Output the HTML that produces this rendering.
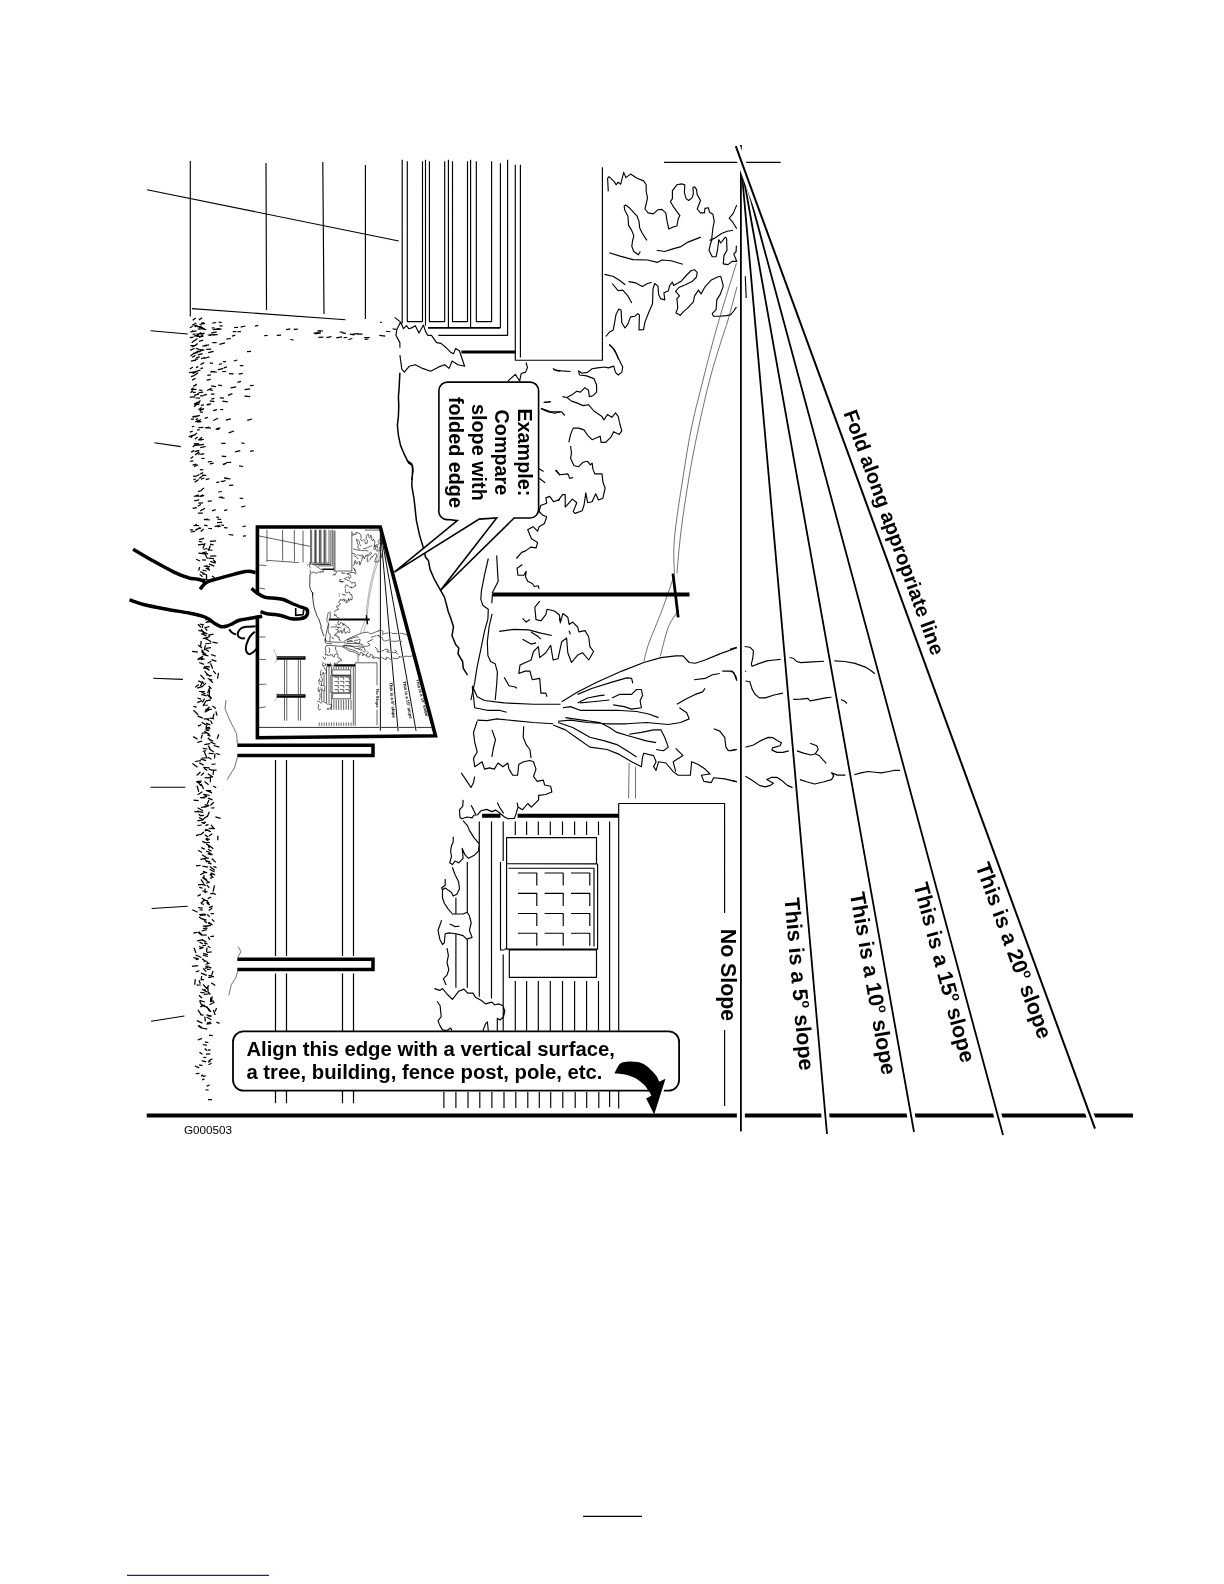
<!DOCTYPE html>
<html><head><meta charset="utf-8"><title>Slope chart</title>
<style>
html,body{margin:0;padding:0;background:#fff}
body{width:1224px;height:1584px;overflow:hidden;position:relative;font-family:"Liberation Sans",sans-serif}
svg{position:absolute;left:0;top:0;display:block;will-change:transform}
svg text{font-family:"Liberation Sans",sans-serif;fill:#000}
.b{font-weight:bold}
path{fill:none;stroke:#000;stroke-linecap:butt;stroke-linejoin:round}
.t{stroke-width:calc(1.15px*var(--k))}
.h{stroke-width:calc(0.7px*var(--k));stroke:#333}
.m{stroke-width:calc(1.8px*var(--k))}
.m2{stroke-width:calc(1.5px*var(--k))}
.t2{stroke-width:calc(1.2px*var(--k))}
.k2{stroke-width:calc(3.5px*var(--k));stroke-linejoin:miter}
.k{stroke-width:calc(2.8px*var(--k))}
.kk{stroke-width:calc(4px*var(--k))}
.sl{stroke-width:calc(1.8px*var(--k))}
.base{stroke-width:4px}
.halo{stroke:#fff;stroke-width:8px}
.halo2{stroke:#fff;stroke-width:6.5px}
.wf{fill:#fff}
.bf{fill:#000;stroke:none}
</style></head><body>
<svg width="1224" height="1584" viewBox="0 0 1224 1584" style="--k:1">
<defs><g id="scene">
<path class="t" d="M190.3,161.0 190.3,316.5M266.0,163.0 266.5,310.0M322.8,162.0 324.0,314.0M365.4,165.0 365.4,319.0M147.0,189.7 398.8,241.0M192.0,308.6 345.5,319.7M402.2,159.8 402.2,323.5M407.3,161.2 407.3,321.6 422.5,321.6 422.5,161.2M425.5,159.8 425.5,325.5M429.4,161.2 429.4,321.6 444.7,321.6 444.7,161.2M448.4,159.8 448.4,327.5M452.5,161.2 452.5,321.6 467.5,321.6 467.5,161.2M470.6,159.8 470.6,327.5M476.3,161.2 476.3,321.6 491.6,321.6 491.6,161.2M500.4,163.3 500.4,328.0M507.6,159.8 507.6,335.3 438.2,335.3M515.3,164.7 515.3,360.2 602.4,360.2 602.4,167.3M520.4,164.7 520.4,357.5"/>
<path class="m" d="M428.0,327.8 500.4,327.8"/>
<path class="k" d="M461.4,352.0 515.3,352.0"/>
<path class="t" d="M608.3,191.4 607.6,178.3 609.0,176.7 614.2,181.6 616.1,184.8 618.1,182.2 620.7,184.2 623.7,172.4 625.9,177.6 630.5,174.1 637.1,178.3 643.6,180.9 646.2,184.8 646.2,191.4 647.5,197.9 646.2,203.8 644.9,209.0 648.2,212.9 653.4,213.9 658.0,209.7 661.9,209.4 665.8,212.9 667.1,221.4 668.8,229.0 673.7,226.7 676.9,226.0 678.2,218.8 679.9,215.6 676.9,211.6 673.7,207.1 670.4,201.8 672.4,198.6 672.4,190.7 676.9,184.8 681.5,183.9 684.8,184.8 684.4,192.7 686.1,198.6 688.7,200.5 692.0,197.9 693.3,194.0 693.0,187.5 694.6,186.8 696.5,189.4 697.2,194.6 700.5,200.5 697.2,209.0 700.5,212.9 704.4,212.9 705.0,208.4 708.3,207.7 709.6,212.3 712.9,214.2 714.2,221.4 712.9,228.0 712.2,234.5 711.6,239.7M646.9,240.4 642.3,233.2 639.7,228.0 639.0,221.4 637.1,216.2 629.2,207.7 625.9,205.1 624.2,205.8 624.6,209.7 627.9,216.2 628.6,225.4 631.8,230.6 633.8,235.8 632.5,241.0 631.8,246.3 633.8,251.5 638.4,254.8 640.3,251.5M609.3,252.8 620.1,256.1 633.1,259.6 647.5,260.0 657.3,262.4 661.9,260.0 671.0,260.7 682.8,264.3M656.7,250.2 664.5,251.5 673.7,248.6 680.2,246.9 688.0,242.1 700.8,237.1M709.6,240.4 714.2,238.4 722.0,233.2 727.3,231.2 733.1,230.3M709.6,240.4 712.2,239.1 710.5,243.7 709.0,250.2 712.2,256.7 716.1,256.7 717.5,250.2 718.8,239.7 720.7,243.0 725.3,237.1 726.6,238.4 727.0,250.2 724.0,255.4 723.3,263.9 727.9,264.6 732.5,261.3 736.7,261.3 733.8,254.1 736.1,251.5 736.4,245.6M736.7,205.1 733.1,213.6 729.2,218.2 733.1,222.7 736.7,228.6M604.4,274.4 612.9,276.3 619.4,280.3 625.3,284.8M628.6,281.6 635.8,282.9 642.3,286.5 647.5,283.5 651.7,282.2M612.2,283.5 618.1,290.7 622.7,290.1 627.9,295.9 631.8,303.1M605.9,336.5 609.6,331.9 613.3,329.9 616.1,314.2 618.8,309.0 621.1,310.3 621.8,322.7 625.0,328.0 627.9,324.1 630.5,316.9 635.1,316.2 637.7,313.6 639.4,314.9 639.0,329.9 643.6,329.7 644.9,322.1 648.8,312.3 652.5,303.8 653.0,288.8 654.7,283.5 658.0,286.1 658.6,294.6 660.6,298.6 664.8,299.9 663.9,292.7 668.4,290.7 669.7,285.5 672.4,282.2 673.7,285.5 681.5,280.9 686.7,275.0 691.3,270.5 694.6,269.8 697.2,272.4 696.5,277.0 692.0,281.6 685.4,284.8 678.9,287.5 675.6,291.4 679.5,295.9 676.9,298.6 677.8,307.7 676.0,312.9 680.2,315.3 683.5,311.6 687.4,308.4 693.3,301.8 694.6,295.9 698.5,290.1 701.1,294.0 705.0,286.8 710.9,280.3 717.5,277.0 720.7,276.3 722.0,280.9 723.3,286.1 720.1,294.6 716.8,299.9 716.1,309.7 712.2,313.6 713.5,316.2 718.8,316.2 726.6,315.6 730.5,314.9 733.8,311.0 736.4,307.1M609.6,344.6 612.9,348.2 616.1,353.5 618.8,359.7M745.3,276.3 746.2,297.9"/>
<path class="t" d="M400.6,322.1 403.5,328.7 406.5,325.7 408.7,328.7 411.6,327.9 415.3,325.7 419.0,333.1 423.4,325.0 425.6,331.6 427.8,335.3 431.5,335.3 436.6,342.6 441.0,343.4 446.2,347.8 450.6,352.2 453.5,353.7 455.7,348.5 459.4,350.7 464.6,366.2 457.9,364.7 452.1,361.0 449.1,368.4 444.7,364.7 438.8,366.9 430.7,371.3 422.6,368.4 415.3,364.7 409.4,366.2 404.3,372.1 401.8,369.1 399.9,355.1M400.6,322.1 396.9,329.4 395.9,335.3 399.9,342.6 399.9,347.8M394.7,317.4 400.6,322.1M380.0,322.1 381.8,322.5M385.9,331.2 390.3,331.8M392.5,328.7 396.2,329.4M526.0,362.5 527.5,367.6 525.6,372.1 521.2,373.5 519.7,380.9M507.9,381.2 515.3,374.3 519.7,381.2M552.8,368.4 556.5,370.6 560.0,371.3M544.0,402.2 550.6,401.5M541.0,408.8 547.6,411.8 555.0,413.2 560.0,411.8M488.3,558.5 484.5,575.2 481.5,590.3 480.8,599.4 483.0,605.5 488.3,609.2 487.9,619.1 484.5,631.2 480.8,649.4 477.0,667.6 474.7,682.7 470.9,700.0M496.7,555.5 497.4,569.1 498.2,581.2 494.4,588.8 492.1,593.3M492.4,594.1 491.8,603.2M492.1,613.8 489.1,626.7 487.3,641.8 487.9,655.5 490.6,661.5 495.2,663.8 497.4,672.1 496.7,684.2 495.2,700.0M538.3,468.3 543.6,471.4M539.1,478.2 545.2,482.7M555.8,469.8 560.0,475.2M560.0,499.4 553.5,501.7 549.7,496.4 545.9,497.9 546.7,503.2 540.6,505.5 539.1,511.5 542.9,515.3 546.7,516.8 544.4,523.6 539.1,526.7 537.6,531.2 533.0,526.7 527.7,529.7 531.5,538.8 537.6,542.6 536.1,547.9 530.8,547.1 525.5,550.9 521.7,552.4 516.4,558.5M522.4,564.5 517.1,568.3 517.9,575.2 523.9,575.2 526.2,571.4 525.5,576.7 527.7,581.2 532.3,583.5 534.5,586.5 538.3,585.8 539.1,588.8"/>
<path class="m2" d="M399.9,372.8 399.1,388.2 398.4,397.1 398.8,405.9 398.4,416.2 397.4,425.0 398.4,435.3 400.6,445.6 404.3,454.4 408.7,463.2 412.4,465.4 413.1,470.6 411.6,480.0M406.5,460.0 411.8,463.8 412.6,469.1 411.8,485.8 414.1,499.4 416.4,520.6 419.7,535.8 423.9,549.4 425.5,557.0 428.5,560.8 430.0,569.1 434.5,579.7 440.6,590.3 444.4,597.1 446.7,605.5 448.2,611.5 450.5,617.6 453.5,626.7 452.0,635.8 455.8,644.8 458.8,647.9 458.0,653.9 462.6,661.5 463.3,668.3 467.6,675.2"/>
<path class="t" d="M609.2,344.5 614.6,349.9 619.1,359.8 622.7,367.0 621.8,372.4 618.2,375.0 615.5,372.4 613.7,366.1 608.3,367.9 604.7,367.0 597.5,367.9 592.1,368.8 587.6,372.4 582.2,373.2 578.6,370.9 579.5,375.0 586.7,375.9 593.9,378.6 596.6,384.9 596.6,392.1 593.0,395.7 589.4,396.6 588.5,390.3 584.9,387.6 580.4,392.1 576.8,391.2 573.2,393.9 567.0,397.5 562.5,396.6M567.0,397.5 571.5,401.1 576.8,402.9 583.1,405.6 588.5,404.7 593.9,411.0 602.0,416.4 603.8,420.0 607.4,414.6 611.9,417.3 615.5,412.8 618.2,416.4 620.0,424.5 621.8,430.8 619.1,434.4 613.7,431.7 611.0,437.1 605.6,442.4 601.1,442.4 600.2,436.2 592.1,439.7 587.6,435.3 584.0,429.9 578.6,428.1 573.2,428.1 570.6,434.4 568.8,442.4M570.6,446.0 571.5,453.2 570.6,458.6 574.1,465.8 578.6,466.7 583.1,462.2 587.6,461.3 590.3,464.9 592.1,463.1 593.0,469.4 594.8,473.9 602.0,473.9 602.9,482.0 605.1,488.3 602.9,498.2 598.4,500.0 595.7,493.7 592.1,501.8 587.6,502.7 585.8,492.8 584.0,505.3 582.2,510.7 575.0,513.4 573.2,511.6 576.8,502.7 572.4,499.1 565.2,507.1 565.2,494.6 562.5,494.6 558.0,500.9M553.5,369.7 561.6,370.9 570.6,371.5M543.6,402.5 550.8,402.0M540.9,408.3 550.8,411.9 561.6,411.9 564.8,415.5M555.3,470.3 559.8,474.8 567.9,473.9 569.7,478.4 573.2,477.5"/>
<path class="h" d="M736.4,263.3C734.0,271.1 725.8,297.2 722.0,310.0C718.2,322.8 716.8,327.5 713.4,340.0C710.0,352.5 705.5,369.9 701.8,384.9C698.1,399.9 694.3,413.4 691.0,429.9C687.7,446.4 684.4,468.8 682.0,483.8C679.6,498.8 678.0,509.2 676.6,519.7C675.2,530.2 674.3,537.7 673.9,546.7C673.5,555.7 674.3,569.1 674.4,573.6M737.0,286.8C735.5,292.3 730.6,311.1 728.0,320.0C725.4,328.9 724.4,330.7 721.5,340.0C718.6,349.3 714.3,362.5 710.7,376.0C707.1,389.5 703.3,405.9 700.0,420.9C696.7,435.9 693.7,450.8 691.0,465.8C688.3,480.8 685.8,497.2 683.8,510.7C681.8,524.2 680.4,536.2 679.3,546.7C678.2,557.2 677.4,569.1 677.0,573.6M673.3,578.0C671.4,583.5 665.9,599.8 661.8,610.7C657.7,621.6 651.8,635.0 648.8,643.4C645.8,651.8 644.7,658.4 643.9,661.4M678.2,610.7C676.6,613.4 671.4,619.4 668.4,627.0C665.4,634.6 661.6,651.6 660.2,656.5"/>
<path class="kk" d="M492.5,594.4 689.5,594.4"/>
<path class="k" d="M673.0,573.6 678.2,617.3"/>
<path class="t" d="M472.3,685.8 477.2,696.8 484.5,700.5 504.1,702.9 533.5,704.2 560.5,704.2M561.7,701.7 577.6,691.9 597.3,682.1 621.8,671.1 643.8,662.5 661.0,657.6 675.7,655.9 683.0,655.9 689.2,662.5 695.3,663.2 705.1,660.0 719.8,653.9 737.0,647.8M477.2,720.1 487.0,720.6 496.8,718.9 513.9,720.6 533.5,722.5 553.1,723.8M553.1,725.0 565.4,729.9 577.6,738.5 589.9,747.1 607.1,749.5 619.3,754.4 631.6,761.8 641.4,766.7 642.6,756.9 643.8,753.2 653.6,755.6 656.1,761.8 653.6,766.7 656.1,770.3 658.5,761.8 665.9,763.0 673.2,771.6 678.1,775.2 690.4,775.2 691.6,761.8 697.7,764.2 705.1,769.1 710.0,774.0 701.4,775.2 703.9,781.4 711.2,782.6 713.7,777.7 724.7,778.9 737.0,781.9M472.3,687.0 473.5,696.8 474.7,707.8 487.0,710.3 499.2,710.3 506.6,712.3M562.9,707.8 570.3,706.6 580.1,710.3 597.3,710.3 616.9,710.3 636.5,711.5 648.7,714.0 658.5,717.6M577.6,702.9 587.5,698.0 599.7,695.6 604.6,695.1M577.6,694.4 592.4,688.2 612.0,682.1 626.7,677.9 631.6,678.4 632.8,683.3M580.1,702.9 592.4,701.7 609.5,700.0M612.0,698.0 619.3,694.4 631.6,694.4 636.5,689.5 641.4,689.5 642.6,695.6 640.1,700.5 641.4,707.8 631.6,709.1 624.2,706.6 613.2,704.9M558.0,721.3 570.3,720.1 587.5,722.5 607.1,723.8 626.7,723.8 646.3,722.5 668.3,724.5 680.6,722.5 689.2,718.9 686.7,712.7 679.4,707.8M565.4,717.6 582.5,720.1 599.7,722.5 609.5,727.5 616.9,732.4 629.1,736.0 646.3,740.9 656.1,742.6M558.0,722.5 572.7,727.5 589.9,737.3 604.6,740.9 616.9,744.6 629.1,752.0 636.5,756.9M629.1,734.3 641.4,732.4 653.6,729.9 661.0,729.9 664.7,737.3 668.3,747.1 663.4,750.7 656.1,749.5M675.7,748.3 683.0,755.6 673.2,761.8 675.7,771.6M676.9,704.2 685.5,699.3 695.3,694.4 702.6,691.9 705.1,688.2M694.1,679.7 705.1,678.4 712.5,674.8 719.8,673.5M722.3,671.1 732.1,671.1 735.7,676.0 737.0,680.9M713.7,728.7 719.8,731.1 724.7,737.3 725.9,747.1 728.4,750.7 737.0,749.5M539.7,601.2 534.8,607.4 536.0,619.6 540.9,620.8 545.8,614.7 547.0,609.3 554.4,611.0 559.3,614.7 560.5,622.1 562.9,613.5 567.8,617.2 569.1,624.5 572.7,622.1 577.6,627.0 578.9,631.9 585.0,630.6 588.7,636.8 589.9,646.6 593.6,651.5 588.7,660.0 582.5,652.7 577.6,655.1 571.5,662.5 567.8,652.7 566.6,638.0 561.7,641.7 558.0,658.8 553.1,660.0 550.7,645.3 545.8,652.7 539.7,657.6 538.4,646.6 533.5,651.5 531.1,660.0 520.0,665.0 518.8,673.5 525.0,671.1 529.9,671.1 532.3,679.7 539.7,678.4 540.9,693.1 545.8,693.1 547.0,696.8M499.2,631.4 513.9,629.4 528.6,629.9 540.9,633.1 551.9,635.5M522.5,618.4 526.2,622.1 529.9,619.6M522.5,639.2 531.1,644.1 536.0,642.9M531.1,631.9 538.4,636.8 540.9,639.2M569.1,630.6 570.3,634.3M559.3,618.4 560.5,623.3M504.1,677.2 509.0,685.8 515.1,687.0 516.9,688.2M477.2,721.3 473.5,732.4 474.7,742.2 477.2,752.0 473.5,758.1 474.7,766.7 478.4,764.2 482.1,761.8 484.5,769.1 489.4,767.9 494.3,769.1 498.0,763.0 502.9,766.7 507.8,763.0 509.0,769.1 512.7,775.2 517.6,775.2 518.8,764.2 523.7,761.8 529.9,760.5 533.5,761.8 536.0,769.1 533.5,776.5 537.2,781.4 543.3,780.1 544.6,785.0 550.7,786.3 551.9,792.4M491.9,729.9 495.5,739.7 493.1,749.5 491.9,756.9M523.7,726.2 523.2,737.3 526.2,744.6 529.9,749.5 531.1,758.1M461.2,772.8 466.1,780.1 471.0,787.5 473.5,782.6 474.7,776.5"/>
<path class="h" d="M629.1,763.0 628.6,798.5M635.5,766.7 635.5,798.5"/>
<path class="kk" d="M517.6,815.7 618.8,815.7M482.1,815.7 500.4,815.7"/>
<path class="t" d="M730.0,649.4 736.6,647.2M744.7,646.5 749.9,647.2 753.5,650.9 752.8,658.2 751.3,664.1 752.1,666.3 759.4,663.4 766.8,660.9 774.1,660.0 780.7,659.4M789.6,657.5 793.2,658.2 796.2,661.2 800.6,662.6 812.4,661.9 824.1,661.2M834.4,660.9 844.7,661.5 855.0,663.4 865.3,667.1 871.2,670.7 874.9,673.7M730.0,671.5 733.7,672.2 736.6,680.3M745.4,670.7 745.9,671.8M745.4,681.0 749.9,681.8 752.1,689.1 755.0,694.3 759.4,697.9 765.3,697.9 774.1,695.0 782.9,693.1M793.2,699.4 800.6,699.1 807.9,698.4 810.1,700.9 818.2,699.4 825.6,697.9 831.5,697.2M841.0,699.4 844.7,701.2 846.9,703.5M730.0,750.9 736.6,749.4M745.4,747.2 753.5,745.0 760.9,740.6 768.2,737.4 772.6,737.6 777.1,740.6 781.5,742.8 780.0,745.7 772.6,747.9 771.9,750.1 777.1,752.4 782.9,752.4 788.8,750.9M796.9,750.9 803.5,753.1 810.9,755.0 815.3,753.8 818.2,749.4 816.8,745.7 810.1,743.2M815.3,753.8 819.7,756.0 823.4,760.4 826.3,763.4M730.0,780.3 736.6,781.5M745.4,776.2 752.1,780.3 759.4,785.4 765.3,786.9 770.4,785.4 773.4,783.2 766.8,779.6 771.2,777.4 777.1,777.4 781.5,780.3 787.4,785.4 792.5,787.6M799.9,779.6 806.5,781.8 814.6,784.0 824.1,781.8 831.5,779.6 833.7,775.9 831.5,772.9 837.4,775.1 845.4,775.1M854.3,774.7 860.9,772.9 868.2,771.5 874.9,772.2 881.5,772.9 888.8,771.5 894.7,770.3 899.9,770.3"/>
<path class="t" d="M455.9,897.8 455.9,913.7M455.9,934.1 455.9,987.7M467.3,861.9 467.3,912.2M467.3,939.2 467.3,987.7M479.3,821.5 479.3,996.7M491.5,821.5 491.5,998.5M503.2,821.5 503.2,861.0M503.2,954.5 503.2,1030.8M515.3,821.5 515.3,834.9M515.3,980.9 515.3,1030.8M526.6,821.5 526.6,834.9M526.6,980.9 526.6,1030.8M538.3,821.5 538.3,834.9M538.3,980.9 538.3,1030.8M550.3,821.5 550.3,834.9M550.3,980.9 550.3,1030.8M562.5,821.5 562.5,834.9M562.5,980.9 562.5,1030.8M574.6,821.5 574.6,834.9M574.6,980.9 574.6,1030.8M586.6,821.5 586.6,834.9M586.6,980.9 586.6,1030.8M598.5,821.5 598.5,834.9M598.5,980.9 598.5,1030.8M609.6,821.5 609.6,1030.8M500.5,861.9 500.5,950.0 504.5,950.0M506.6,837.6 596.5,837.6 596.5,863.7 506.6,863.7ZM506.6,863.7 597.6,864.0 597.6,949.1 504.5,949.1M506.6,863.7 506.6,949.1M508.4,868.2 594.0,868.2 594.0,946.4M509.3,950.0 596.5,950.0 596.5,977.3 509.3,977.3ZM518.0,873.0 536.8,873.0 536.8,885.6M544.6,873.0 563.2,873.0 563.2,885.6M571.0,873.0 589.8,873.0 589.8,885.6M518.0,893.3 536.8,893.3 536.8,905.9M544.6,893.3 563.2,893.3 563.2,905.9M571.0,893.3 589.8,893.3 589.8,905.9M518.0,913.5 536.8,913.5 536.8,926.1M544.6,913.5 563.2,913.5 563.2,926.1M571.0,913.5 589.8,913.5 589.8,926.1M518.0,933.2 536.8,933.2 536.8,945.8M544.6,933.2 563.2,933.2 563.2,945.8M571.0,933.2 589.8,933.2 589.8,945.8M463.1,799.9 462.8,806.2 459.5,809.8 459.9,817.0 461.7,818.8 467.1,817.0 472.1,817.9 473.9,815.2 477.5,814.8 481.1,810.7 486.5,809.4 491.9,811.6 495.5,810.1 499.1,812.5 504.5,817.0 508.1,818.8 514.4,818.4 516.2,813.4 518.0,807.1 517.1,802.6M518.0,807.1 522.4,809.8 527.8,803.5 531.4,807.1 538.6,799.9 538.6,795.4 545.8,794.5 552.1,791.8M497.3,802.6 500.0,808.0 503.6,813.4M471.2,805.3 473.9,810.7 475.7,814.3M463.1,820.6 467.6,825.9 469.4,830.4 473.9,837.6 479.3,843.9 478.4,851.1 473.9,855.6 468.5,858.3 464.9,854.7 462.2,848.4 463.1,858.3 458.6,862.8 455.0,861.0 452.4,864.6 449.7,862.8 451.5,856.5 450.6,851.1 451.5,845.7 453.2,842.1 453.2,836.7M452.4,867.3 455.0,874.5 458.6,881.7 459.5,888.8 456.8,894.2 453.2,896.0 451.5,892.4 448.8,890.6 445.2,888.0 442.5,889.7 441.6,888.0 445.2,885.3 445.2,879.0M442.5,889.7 442.5,897.8 444.3,903.2 447.9,908.6 452.4,914.0 458.6,914.0 463.1,914.0 467.1,912.2 469.4,915.8 471.2,923.0 469.4,930.2 472.1,937.4 466.7,939.2 463.1,935.6 455.9,933.8 448.8,932.9 445.2,933.8 444.3,942.8 442.5,944.6 439.8,939.2 438.0,930.2 440.7,923.0 441.6,920.3M449.7,923.9 455.0,926.6 459.5,926.2M447.0,948.2 448.4,955.3 447.0,962.5 448.8,969.7 447.0,975.1 443.4,978.7 446.1,985.0M434.4,988.6 439.8,990.4 442.5,988.6 447.0,994.0 452.4,999.4 455.9,994.9 458.6,991.3 464.0,989.1 467.6,993.1 473.0,993.1 475.7,997.6 481.1,1000.3 485.6,1003.9 491.9,1002.1 494.6,1004.8 499.1,1003.9 503.0,1005.7 504.8,1011.1 503.6,1016.5 500.0,1020.1 497.3,1018.3 497.3,1030.8M437.1,1001.2 440.1,1005.7 441.2,1016.5 438.0,1020.9 439.8,1025.4 442.5,1029.9 447.0,1030.5 450.6,1028.1 452.0,1030.8M482.9,1030.8 485.6,1023.6 487.4,1021.8 488.3,1030.8M443.9,1092.0 443.9,1108.0M455.9,1092.0 455.9,1108.0M468.0,1092.0 468.0,1108.0M479.8,1092.0 479.8,1108.0M491.9,1092.0 491.9,1108.0M504.0,1092.0 504.0,1108.0M515.8,1092.0 515.8,1108.0M527.8,1092.0 527.8,1108.0M539.3,1092.0 539.3,1108.0M550.7,1092.0 550.7,1108.0M562.8,1092.0 562.8,1108.0M575.2,1092.0 575.2,1108.0M586.7,1092.0 586.7,1108.0M598.8,1092.0 598.8,1108.0M609.6,1030.8 609.6,1107.0M618.7,1108.5 618.7,803.5 724.6,803.5 724.6,913.0M724.6,1030.0 724.6,1106.0"/>
<path class="t" d="M150.6,330.8 187.8,334.0M154.4,442.7 180.8,446.6M153.2,678.3 182.9,679.4M150.4,787.2 185.4,787.2M151.7,908.5 187.7,906.3M151.0,1021.2 184.4,1016.0"/>
</g>
<g id="fence">
<path class="t2" d="M275.5,760.0 275.5,956.0M275.5,973.5 275.5,1103.3M286.5,760.0 286.5,956.0M286.5,973.5 286.5,1103.3M342.5,760.0 342.5,956.0M342.5,973.5 342.5,1103.3M353.5,760.0 353.5,956.0M353.5,973.5 353.5,1103.3"/>
<path class="k2" d="M237.3,745.3 373.0,745.3 373.0,755.6 237.3,755.6M237.3,959.2 373.0,959.2 373.0,969.6 237.3,969.6"/>
<path class="h" d="M226.0,700.0 225.0,708.5 229.2,719.1 233.5,727.6 236.6,734.0 237.3,743.5M237.3,757.3 234.5,768.0 230.3,774.3 227.1,779.7M238.1,946.4 240.9,951.7 237.7,957.4M237.7,971.5 235.6,978.2 231.3,984.6 228.8,995.2"/>
</g>
<g id="lines">
<path class="base" d="M146.7,1115.6 H1133"/>
<path class="t" d="M664.1,162.3 H780.7"/>
<path class="halo" d="M740.9,1108 L740.9,1131.5"/>
<path class="halo2" d="M740.9,640 L740.9,800"/>
<path class="halo" d="M824.7,1108 L827.0,1134.0"/>
<path class="halo2" d="M783.2,640 L797.4,800"/>
<path class="halo" d="M909.7,1108 L914.0,1132.0"/>
<path class="halo2" d="M826.2,640 L854.7,800"/>
<path class="halo" d="M995.7,1108 L1003.0,1135.0"/>
<path class="halo2" d="M869.6,640 L912.7,800"/>
<path class="halo" d="M1087.4,1108 L1095.0,1128.7"/>
<path class="sl" d="M740.9,145.0 L740.9,1131.5"/>
<path class="sl" d="M741.0,163.0 L827.0,1134.0"/>
<path class="sl" d="M741.0,163.0 L914.0,1132.0"/>
<path class="sl" d="M741.0,163.0 L1003.0,1135.0"/>
<path class="halo" style="stroke-width:8.3px" d="M734.3,142 L767.2,232"/>
<path class="sl" style="stroke-width:calc(2px*var(--k))" d="M735.8,146.2 L1095.0,1128.7"/>
</g>
<g id="labels">
<text class="b" font-size="20.2" transform="translate(843.3,413.0) rotate(70)">Fold along appropriate line</text>
<text class="b" font-size="21.3" transform="translate(721.2,928.8) rotate(90)">No Slope</text>
<text class="b" font-size="21.45" transform="translate(784.4,898.2) rotate(85)">This is a 5<tspan font-size="12.5" dy="-8.5">o</tspan><tspan dy="8.5"> </tspan>slope</text>
<text class="b" font-size="21.45" transform="translate(849.8,893.4) rotate(80)">This is a 10<tspan font-size="12.5" dy="-8.5">o</tspan><tspan dy="8.5"> </tspan>slope</text>
<text class="b" font-size="21.45" transform="translate(913.3,884.8) rotate(75)">This is a 15<tspan font-size="12.5" dy="-8.5">o</tspan><tspan dy="8.5"> </tspan>slope</text>
<text class="b" font-size="21.5" transform="translate(975.2,865.7) rotate(70)">This is a 20<tspan font-size="12.5" dy="-8.5">o</tspan><tspan dy="8.5"> </tspan>slope</text>
</g>
</defs>
<use href="#scene"/>
<use href="#fence"/>
<use href="#lines"/>
<use href="#labels"/>
<path style="stroke-width:1.25px" d="M191.5,388.5 L194.1,388.0M193.8,435.5 L197.0,433.1M195.1,327.0 L197.3,325.3M199.6,411.0 L202.2,409.2M200.6,454.6 L204.2,453.7M189.9,529.9 L193.2,529.8M190.2,350.4 L194.6,348.2M196.2,357.6 L199.8,356.9M190.5,437.8 L193.0,435.9M194.2,466.6 L198.0,464.7M192.3,416.5 L196.9,416.2M195.4,371.7 L200.4,370.2M193.0,476.2 L195.9,476.4M198.4,409.8 L201.7,407.6M196.9,326.7 L201.1,326.3M192.6,508.3 L196.9,507.7M193.8,443.9 L199.1,443.7M197.1,422.3 L200.8,419.5M201.2,458.5 L204.6,458.3M197.5,402.9 L200.5,400.5M190.5,355.9 L194.3,353.0M191.6,347.0 L196.3,345.1M193.9,336.2 L198.9,334.8M199.7,496.6 L203.0,494.9M200.1,395.8 L203.1,395.9M192.1,357.2 L195.5,355.3M192.7,447.0 L195.6,444.6M195.5,398.0 L200.1,398.2M197.1,430.1 L199.7,429.6M197.9,513.2 L202.8,513.2M194.0,404.4 L197.6,401.9M190.5,332.3 L193.1,330.7M190.5,392.7 L192.8,390.8M193.4,341.6 L197.4,338.4M191.2,452.1 L194.3,450.4M189.7,397.1 L195.2,396.9M195.7,419.9 L197.9,418.3M192.7,392.4 L195.7,392.3M201.0,323.4 L203.8,322.6M188.7,436.6 L193.9,435.1M197.8,506.2 L200.9,504.5M197.9,354.9 L202.6,353.6M191.0,389.7 L196.4,389.4M198.3,503.2 L203.0,502.9M196.0,367.7 L198.4,366.7M192.3,325.1 L196.4,323.0M193.6,525.5 L199.1,525.7M194.0,526.0 L196.8,524.4M190.9,361.2 L196.0,360.1M194.3,500.8 L199.2,499.9M196.5,336.4 L201.4,336.4M194.7,482.1 L198.8,479.5M198.8,390.0 L202.4,390.3M200.9,405.3 L203.9,404.9M190.4,345.5 L195.3,345.6M198.7,349.6 L203.1,349.9M196.5,394.8 L198.6,393.3M196.3,529.4 L201.3,527.9M199.9,412.2 L203.0,412.1M192.7,373.7 L196.4,371.6M193.9,375.7 L198.2,372.8M194.0,395.4 L199.0,394.2M200.1,409.9 L204.0,408.7M189.8,432.1 L192.7,431.1M198.9,319.9 L202.2,317.8M195.8,476.2 L199.5,474.5M198.7,439.7 L202.1,437.3M192.3,372.1 L196.3,371.7M198.2,439.9 L202.0,439.9M194.9,451.6 L199.3,450.3M194.9,417.0 L199.9,415.3M199.9,469.7 L203.2,469.8M200.9,439.5 L203.8,439.4M195.0,345.4 L197.6,343.4M196.4,334.1 L201.6,333.7M198.2,351.8 L201.0,351.3M200.3,510.9 L204.9,508.2M194.4,404.2 L199.3,404.6M194.5,353.5 L197.9,352.5M193.6,360.6 L196.1,360.3M194.9,439.3 L197.6,437.1M195.0,455.0 L199.3,451.7M201.3,490.0 L204.0,488.1M199.1,327.3 L201.6,325.9M200.3,409.7 L203.6,409.5M199.8,351.0 L204.3,349.8M189.8,337.7 L193.6,337.1M199.9,334.2 L204.7,333.2M199.2,337.7 L203.3,334.6M192.5,417.2 L197.6,415.8M191.0,376.6 L194.1,375.7M191.7,342.7 L194.2,340.8M193.0,385.9 L196.3,385.5M192.0,427.0 L194.3,426.0M189.1,372.6 L193.2,372.1M195.3,359.1 L198.1,359.2M193.8,496.5 L198.6,494.9M194.4,403.7 L199.8,402.9M198.8,392.7 L203.2,392.1M194.0,406.7 L196.3,404.9M198.6,334.1 L201.2,332.6M198.8,336.4 L203.4,336.3M192.2,380.1 L195.6,378.3M194.0,353.5 L198.7,350.9M195.2,530.4 L199.9,527.8M193.9,386.3 L196.7,384.0M195.3,422.0 L198.8,420.0M192.7,320.2 L195.7,318.0M189.8,327.8 L192.7,326.3M195.1,445.3 L199.6,444.8M199.9,474.0 L203.2,472.7M190.6,532.0 L195.0,531.4M198.8,327.5 L203.2,327.5M199.1,478.4 L202.4,476.1M198.5,427.6 L203.5,427.3M199.5,445.1 L204.0,444.4M189.9,368.9 L192.9,366.9M198.9,341.3 L203.1,340.2M198.0,454.3 L200.4,453.5M198.0,491.7 L201.9,490.5M190.2,461.3 L193.4,460.9M192.6,334.4 L195.7,334.0M201.0,479.1 L204.4,478.0M197.0,422.2 L201.4,421.7M190.6,458.4 L193.3,456.6M193.4,479.6 L195.9,479.0M192.0,331.6 L196.5,330.8M192.6,465.2 L196.4,464.1M190.9,419.2 L194.0,419.2M200.7,531.5 L203.7,529.0M201.1,496.5 L204.2,495.4M200.5,364.6 L204.2,362.5M195.8,348.7 L198.7,348.8M194.8,496.0 L199.4,496.0M200.5,368.6 L203.0,367.8M212.4,323.1 L216.2,322.5M208.2,352.6 L213.6,351.3M218.6,322.2 L221.9,322.5M217.5,519.1 L221.3,519.5M209.7,400.9 L214.4,401.7M211.3,399.2 L214.4,398.4M219.4,344.4 L225.0,342.9M207.3,375.3 L210.9,374.9M222.3,401.2 L227.7,401.8M221.7,456.1 L226.3,456.7M202.0,475.2 L206.3,475.3M216.3,482.7 L219.3,481.9M203.9,519.7 L207.9,519.1M218.1,385.1 L221.9,385.7M207.8,461.9 L212.0,461.5M204.0,358.5 L209.4,356.8M205.1,427.5 L211.0,428.2M204.7,418.4 L207.8,417.3M203.3,395.4 L206.9,394.3M221.3,443.3 L225.5,443.4M213.1,410.6 L217.0,409.7M207.7,335.0 L211.1,335.5M215.7,429.1 L219.3,429.4M206.6,380.1 L210.8,379.3M221.0,525.0 L224.0,525.3M217.1,328.6 L221.5,329.1M200.2,447.6 L205.8,446.5M220.8,497.6 L224.5,498.1M204.0,345.5 L209.1,344.9M217.0,522.6 L222.2,522.4M213.2,420.5 L218.1,418.3M222.2,371.6 L226.1,371.5M206.2,349.4 L211.3,349.1M202.3,346.2 L207.0,345.6M206.6,404.8 L209.7,404.6M211.2,385.9 L216.0,386.6M212.1,510.8 L215.7,509.7M217.7,527.0 L220.7,526.2M216.7,428.5 L220.4,427.8M222.8,464.6 L225.8,463.7M210.9,394.0 L214.5,394.0M218.2,492.0 L221.8,491.5M208.3,528.5 L212.0,528.7M217.7,369.9 L223.3,368.4M205.3,428.2 L209.3,427.0M222.9,464.4 L226.8,463.0M223.9,367.9 L226.9,366.8M209.2,334.5 L214.9,335.1M224.0,477.8 L227.9,478.3M223.0,361.5 L226.1,361.5M209.8,463.9 L213.7,463.1M201.1,358.6 L205.0,357.5M204.1,525.2 L207.6,525.8M219.8,397.8 L224.0,398.1M211.1,333.1 L216.7,331.9M209.8,362.9 L212.9,363.3M220.1,409.5 L223.2,409.6M202.6,329.2 L206.3,329.7M221.8,481.6 L225.5,480.7M214.7,526.7 L219.7,525.3M207.0,390.5 L211.7,388.3M216.1,517.0 L219.1,517.4M211.0,371.4 L216.8,372.2M206.6,404.7 L211.0,403.9M204.6,519.5 L209.8,519.8M218.8,497.4 L222.8,497.1M209.7,390.0 L212.9,390.1M218.8,364.5 L221.8,363.6M212.8,329.9 L218.6,328.5M224.2,510.6 L227.3,509.7M212.3,342.5 L216.6,342.5M210.1,372.0 L215.1,371.7M220.8,481.4 L224.2,481.3M207.7,501.3 L211.8,500.9M205.8,479.7 L209.4,478.7M247.0,351.6 L251.0,351.4M250.0,385.6 L253.6,385.3M241.4,442.9 L244.6,443.5M244.4,396.2 L250.2,396.7M231.9,336.2 L235.3,335.1M239.1,465.9 L243.2,466.5M235.1,451.8 L240.3,450.7M226.3,462.5 L231.2,462.3M233.8,361.0 L237.3,360.0M239.8,365.7 L243.4,365.7M232.7,331.6 L236.3,331.6M229.0,373.6 L233.6,373.9M226.3,339.2 L230.9,338.5M225.9,420.1 L230.8,418.8M230.5,387.9 L236.2,386.8M238.6,374.1 L242.8,373.4M250.1,451.3 L253.7,450.7M228.6,432.9 L234.0,431.0M244.5,389.7 L250.1,388.9M228.0,395.3 L232.4,393.7M247.3,420.4 L252.0,419.0M237.3,382.4 L241.0,381.4M241.1,507.0 L245.5,506.0M242.6,526.6 L245.9,526.0M242.9,536.1 L246.0,535.9M228.5,534.5 L233.3,535.2M223.9,527.6 L227.5,527.9M239.7,498.1 L243.2,498.5M229.1,485.3 L233.3,485.2M224.8,478.5 L230.5,478.8M201.5,328.5 L204.7,328.7M357.8,334.0 L362.5,334.0M316.2,332.5 L320.9,332.1M276.7,335.4 L281.0,335.1M197.8,329.1 L201.5,329.0M343.7,337.7 L347.2,337.5M286.1,329.7 L290.3,328.8M211.5,328.0 L214.6,327.8M317.7,330.7 L323.0,331.0M293.7,329.3 L297.8,329.1M379.3,335.4 L385.3,336.1M336.3,337.9 L342.1,336.9M290.2,339.5 L293.6,340.0M348.3,339.5 L352.3,338.5M342.1,332.9 L345.9,333.4M352.8,334.0 L358.6,333.7M234.1,327.5 L238.0,327.3M199.4,324.5 L205.1,323.4M326.3,337.7 L331.5,336.7M215.6,329.3 L219.7,329.3M364.1,337.6 L369.8,337.5M213.5,334.7 L217.7,334.7M349.8,334.1 L354.5,334.9M264.2,335.7 L267.7,335.5M339.6,332.0 L343.4,332.4M318.4,337.3 L323.4,337.2M254.9,326.2 L258.3,325.3M313.5,333.2 L319.2,332.9M219.5,325.9 L222.5,325.9M193.5,326.0 L197.5,325.1M237.4,331.5 L241.0,331.5M315.1,334.0 L320.8,332.9M240.6,327.1 L245.4,326.0M364.8,339.3 L368.5,339.0M199.0,539.7 L204.1,538.3M209.9,541.4 L216.1,540.9M198.8,541.5 L202.2,541.8M210.0,544.1 L213.6,544.8M198.0,544.9 L203.8,544.1M205.1,543.1 L202.8,548.4M210.4,545.5 L208.4,550.8M203.5,549.5 L206.9,548.5M207.2,549.0 L212.5,550.5M202.3,552.7 L206.9,552.0M198.4,553.1 L204.8,553.9M204.2,553.4 L208.1,553.8M210.2,556.2 L216.3,555.8M205.0,554.0 L207.5,558.8M208.3,558.1 L213.8,558.7M196.2,559.2 L200.0,561.0M202.2,559.9 L205.9,560.1M213.2,559.7 L215.8,562.2M210.3,561.3 L215.5,563.2M208.9,563.8 L214.3,566.1M203.8,566.2 L210.0,566.7M206.7,565.3 L209.6,570.6M205.7,568.1 L209.5,569.9M199.7,567.0 L198.7,570.7M202.6,570.1 L206.6,571.0M200.3,571.6 L204.7,573.7M202.3,574.0 L206.9,574.5M199.6,574.1 L202.5,576.7M212.0,576.0 L214.6,577.7M206.5,574.4 L206.6,579.2M192.1,579.9 L197.9,578.7M202.9,579.2 L208.4,579.8M209.1,579.5 L208.7,583.0M200.7,584.2 L204.5,582.1M197.9,582.1 L196.6,585.1M210.1,583.3 L213.8,585.7M199.4,588.1 L204.8,586.3M205.1,588.3 L208.9,588.2M206.8,589.3 L211.4,590.1M199.8,589.4 L205.1,592.3M206.5,591.1 L212.5,590.9M210.5,591.7 L215.3,592.6M207.6,591.9 L212.3,595.0M215.2,593.1 L220.8,596.2M205.8,597.6 L211.1,597.1M204.6,597.0 L209.1,597.4M204.2,600.9 L208.5,599.0M202.6,601.1 L208.3,598.7M208.2,601.4 L212.1,602.1M197.4,602.8 L203.2,604.5M195.2,605.3 L200.4,604.4M204.2,604.1 L209.3,605.7M195.7,607.4 L199.9,605.7M204.8,607.5 L210.1,609.9M209.8,608.7 L214.5,610.1M203.9,609.2 L206.7,611.3M200.6,612.2 L205.9,612.6M198.1,615.4 L201.1,612.9M208.8,614.6 L215.2,615.8M202.4,613.6 L203.5,618.0M198.9,615.5 L203.0,617.2M205.2,616.3 L208.4,620.0M205.3,619.8 L208.9,619.0M205.7,622.7 L210.4,620.9M207.1,621.7 L213.0,622.2M199.7,624.0 L203.2,624.9M198.0,624.2 L201.0,627.4M203.1,623.9 L202.2,627.9M204.4,627.9 L209.5,626.5M205.1,628.0 L207.2,630.6M198.4,630.3 L204.1,631.6M201.3,629.1 L204.4,634.6M203.6,632.4 L207.4,633.9M201.2,633.6 L206.6,635.8M208.2,635.2 L213.5,634.2M205.5,639.1 L210.0,636.0M202.8,638.7 L207.6,637.4M204.2,638.1 L207.3,639.5M207.0,639.2 L211.2,641.8M212.6,642.1 L217.6,643.1M205.0,644.0 L211.3,643.0M201.2,640.9 L200.6,646.3M198.2,645.1 L202.0,648.1M205.4,645.3 L204.2,650.4M206.1,648.3 L211.0,647.7M204.7,648.7 L208.9,651.6M201.6,649.6 L204.5,653.5M192.1,651.3 L197.9,652.1M201.4,651.9 L206.1,654.4M210.9,654.5 L215.6,656.2M202.3,654.4 L208.4,655.8M198.3,658.7 L203.0,656.4M197.5,659.6 L202.7,658.1M201.0,659.7 L204.5,658.9M211.4,659.7 L216.4,661.4M207.6,663.2 L211.2,661.3M199.1,662.5 L204.1,664.3M210.5,663.3 L212.7,668.7M205.5,666.3 L209.9,666.8M204.0,666.5 L207.6,669.2M203.2,667.8 L206.4,668.5M207.3,667.8 L209.3,670.6M213.2,670.8 L215.9,673.8M204.6,671.2 L208.2,675.4M206.0,673.1 L210.3,676.6M206.3,674.9 L211.8,675.7M218.5,672.8 L217.5,678.6M200.4,674.9 L204.6,679.3M207.7,678.5 L212.2,680.0M209.1,679.1 L212.9,682.8M198.3,680.9 L204.1,683.3M203.0,681.3 L200.4,686.1M201.6,687.1 L206.0,683.1M195.2,687.2 L198.8,684.6M208.6,685.9 L211.5,688.8M197.2,688.2 L202.8,686.3M209.6,687.6 L207.6,693.1M199.0,691.5 L204.8,691.7M209.6,689.6 L209.3,695.4M200.8,691.7 L205.5,694.0M201.2,694.4 L206.7,695.8M207.2,694.5 L211.2,698.7M208.7,694.9 L211.8,698.6M197.4,698.0 L201.1,699.1M206.1,700.8 L210.9,699.8M204.6,698.5 L202.4,702.4M197.2,702.6 L202.0,700.7M206.0,700.8 L203.0,706.1M203.1,704.7 L207.7,705.3M212.5,706.1 L215.8,708.4M193.4,706.3 L196.6,707.1M205.2,711.3 L209.5,706.8M205.5,709.3 L211.8,709.3M204.6,712.3 L209.4,709.7M193.5,710.3 L198.2,714.8M215.9,711.4 L217.0,715.6M214.2,713.6 L212.5,718.8M197.5,715.9 L202.8,718.1M203.6,718.8 L209.3,718.9M209.5,718.0 L214.2,718.8M206.7,719.0 L209.4,720.7M210.5,720.5 L212.3,724.0M205.9,723.2 L210.3,724.8M201.7,722.4 L205.8,724.7M197.9,726.1 L201.3,724.6M207.0,723.9 L205.9,728.8M206.4,727.7 L210.1,727.4M205.5,729.4 L210.3,728.7M205.8,730.4 L209.2,730.6M201.7,733.1 L205.9,732.8M204.2,731.2 L209.7,734.6M207.3,735.0 L210.5,736.2M202.4,734.4 L201.1,738.5M218.8,734.2 L217.2,738.9M193.2,736.6 L197.6,739.2M207.8,737.7 L210.5,740.5M209.5,739.4 L213.2,741.2M197.1,742.5 L202.0,741.2M210.4,741.9 L215.5,744.3M204.2,744.6 L210.2,743.6M213.5,745.5 L219.4,747.1M208.0,745.7 L210.3,748.6M202.8,748.3 L207.4,749.0M208.8,748.4 L213.7,752.0M202.7,751.5 L206.0,750.7M208.6,753.4 L213.6,753.6M216.2,753.5 L219.8,754.7M204.3,752.0 L206.6,757.0M215.0,753.5 L214.5,758.5M202.0,758.0 L207.6,757.9M207.9,757.3 L211.5,759.3M200.4,758.8 L206.1,760.6M195.1,761.5 L201.0,760.7M199.3,762.9 L203.7,765.1M211.6,764.3 L215.6,764.0M192.5,763.5 L197.5,767.2M203.3,767.4 L209.6,767.8M203.7,767.9 L207.3,770.4M208.8,769.0 L211.9,770.2M211.4,770.0 L216.6,770.2M213.6,770.7 L213.0,774.8M196.7,775.5 L200.5,772.0M201.0,775.6 L204.0,772.7M207.8,773.8 L213.1,777.3M208.4,777.9 L211.9,776.7M204.7,777.7 L208.9,777.9M210.6,776.3 L210.3,782.3M196.2,781.6 L201.7,781.1M196.8,782.3 L201.0,782.3M204.6,781.6 L208.6,784.8M197.8,782.1 L201.2,785.9M201.1,783.7 L203.5,788.9M213.3,786.0 L216.2,787.7M197.0,785.6 L198.8,791.7M205.8,790.7 L211.2,790.6M206.9,790.6 L212.1,792.8M197.7,794.7 L202.4,791.8M204.1,794.3 L209.7,795.5M203.4,794.0 L206.9,797.0M201.7,797.5 L206.3,796.9M199.9,797.6 L205.0,798.0M208.0,798.1 L212.6,799.8M193.5,800.1 L198.6,800.6M209.0,800.0 L207.2,803.9M210.4,805.3 L213.9,802.2M204.7,804.7 L209.4,805.6M204.1,807.3 L208.7,805.7M201.0,807.5 L206.1,806.4M210.9,808.0 L214.4,807.9M197.6,807.8 L203.0,810.7M197.0,811.1 L203.3,812.4M194.3,811.7 L198.6,811.8M209.4,811.8 L207.2,816.9M198.6,814.4 L201.8,816.2M200.2,815.7 L204.0,815.3M203.3,819.1 L207.5,815.9M215.4,816.9 L220.6,818.3M198.9,817.5 L203.7,820.0M197.3,820.8 L202.6,820.1M202.4,822.8 L206.0,822.1M201.4,822.4 L205.0,823.6M205.4,825.7 L208.5,824.4M197.4,825.5 L201.8,825.0M211.0,824.8 L214.2,828.9M208.8,828.3 L214.9,828.7M204.7,831.0 L208.5,829.6M205.2,829.3 L210.9,831.7M200.2,834.9 L203.9,831.9M196.0,835.6 L199.7,834.3M208.9,836.0 L212.3,833.8M204.7,834.7 L208.1,837.1M217.9,835.8 L217.7,840.2M205.7,838.4 L210.0,839.5M205.5,839.1 L208.4,840.7M202.3,841.4 L205.5,842.7M203.9,842.6 L209.8,842.5M206.1,843.9 L210.0,846.0M207.9,844.8 L209.5,848.3M208.4,844.9 L213.3,848.7M201.2,847.6 L204.8,849.1M208.0,849.2 L211.6,851.3M198.2,850.2 L201.8,852.5M206.1,851.2 L210.2,852.5M208.4,852.5 L212.6,854.9M207.7,853.6 L211.2,854.8M202.1,854.8 L206.9,858.0M205.6,858.0 L208.9,858.0M200.4,859.3 L205.8,858.4M204.1,858.0 L207.1,862.4M211.8,858.5 L215.7,862.4M206.3,860.9 L210.4,861.9M207.9,862.9 L211.5,863.9M196.0,865.9 L200.6,865.4M202.5,866.1 L208.2,867.2M213.4,866.4 L216.5,867.7M209.8,866.4 L214.8,870.2M209.6,869.2 L214.6,872.0M202.9,871.3 L207.2,872.9M200.2,874.8 L204.9,872.4M210.5,872.9 L215.1,874.8M212.0,873.3 L210.8,879.0M209.8,874.3 L213.4,877.8M203.8,875.1 L204.5,879.6M202.0,877.5 L207.0,879.5M203.4,877.9 L208.3,881.9M201.0,879.3 L203.7,883.5M206.2,883.2 L209.8,882.1M198.0,884.9 L203.9,884.3M202.9,883.9 L205.8,885.7M206.8,885.1 L209.3,887.7M199.2,887.4 L202.5,888.2M214.5,885.3 L213.1,891.6M205.1,888.6 L205.1,893.2M202.2,891.0 L207.5,891.8M210.2,893.7 L214.2,893.4M212.0,893.2 L216.0,894.5M197.6,896.1 L200.9,894.4M207.8,898.6 L211.2,897.0M201.6,898.0 L205.4,900.3M203.1,899.7 L208.1,901.2M200.7,903.3 L204.4,900.2M206.3,901.6 L209.4,903.1M206.8,903.1 L209.8,905.0M200.9,903.5 L204.0,904.4M209.0,907.7 L212.8,906.1M198.0,907.5 L202.6,908.1M208.8,910.4 L212.2,907.9M199.5,909.9 L203.0,910.0M192.3,909.7 L197.7,912.3M210.6,913.6 L214.0,913.7M199.1,914.5 L205.4,914.2M199.9,915.5 L206.0,914.9M207.1,914.4 L209.6,916.8M198.8,916.8 L203.0,919.5M200.6,918.3 L206.5,920.1M211.8,919.3 L214.4,921.6M203.9,920.5 L207.0,923.0M208.5,922.3 L211.6,924.0M208.0,923.2 L212.7,925.0M202.8,926.1 L208.4,925.9M204.8,926.6 L211.0,925.4M204.2,928.3 L207.6,928.2M203.0,928.4 L206.8,929.3M201.6,931.0 L206.7,929.6M193.3,933.1 L197.0,932.4M198.8,931.7 L203.0,935.9M197.6,932.1 L202.0,935.5M200.8,934.8 L206.6,935.1M210.3,936.6 L214.1,936.1M208.1,936.8 L209.8,939.9M197.2,940.8 L202.6,939.9M201.8,939.4 L206.5,942.2M199.5,942.0 L202.7,943.9M204.0,943.2 L207.8,944.0M202.4,945.9 L206.0,945.2M207.6,946.0 L210.5,947.8M199.2,946.2 L201.9,948.1M199.3,948.9 L203.5,947.3M207.0,947.6 L206.6,951.9M194.0,947.8 L196.0,952.9M206.7,952.5 L211.7,951.8M203.1,953.3 L207.9,954.7M202.9,955.1 L208.0,956.5M195.6,955.0 L201.4,957.5M193.4,957.6 L198.1,958.7M195.7,959.7 L199.0,959.0M202.1,958.7 L205.7,961.4M203.5,961.1 L206.7,961.2M205.7,964.4 L209.7,963.0M207.2,961.5 L208.1,965.6M191.9,966.4 L198.1,965.6M205.2,966.0 L211.3,967.9M204.7,968.3 L208.0,967.4M207.1,969.4 L210.4,969.3M203.1,968.3 L206.2,971.7M195.7,972.0 L199.3,970.7M213.1,970.9 L211.1,976.6M201.1,973.1 L206.8,975.3M208.5,975.4 L214.0,976.9M208.1,977.4 L211.5,977.5M201.7,976.1 L201.1,980.4M200.7,979.7 L204.0,979.7M195.3,979.1 L194.7,984.7M199.0,980.2 L200.3,983.7M211.2,982.8 L215.3,985.5M196.5,985.1 L200.8,985.0M203.2,984.5 L207.0,988.8M206.1,988.6 L208.8,985.5M207.9,986.1 L208.0,991.5M202.0,989.3 L207.1,991.9M204.6,988.9 L205.9,992.0M200.3,992.4 L204.7,992.8M207.8,991.8 L210.4,994.5M203.8,994.5 L208.6,993.9M199.0,995.2 L202.0,998.3M212.2,996.4 L211.5,1000.8M210.7,997.5 L210.4,1002.1M210.1,1001.3 L214.1,1001.2M199.5,1000.3 L204.9,1002.0M199.6,1000.9 L201.8,1005.5M209.5,1004.8 L214.6,1002.2M202.0,1004.6 L207.2,1007.8M200.3,1006.9 L205.1,1005.2M206.6,1006.4 L209.6,1011.3M208.4,1008.4 L210.9,1011.8M216.6,1008.0 L215.1,1011.4M213.3,1009.9 L215.2,1015.0M197.8,1009.9 L201.3,1014.9M206.4,1014.9 L211.7,1016.2M200.1,1014.6 L203.6,1015.2M208.1,1015.8 L211.6,1016.4M206.6,1017.0 L211.4,1019.7M204.7,1016.6 L205.4,1021.3M196.8,1020.6 L202.4,1023.1M216.4,1022.2 L219.6,1023.3M206.9,1023.2 L211.1,1022.0M206.5,1024.1 L211.5,1023.5M198.6,1025.2 L202.2,1027.9M198.0,1025.8 L201.7,1028.3M202.1,1028.0 L207.2,1029.1M199.1,1064.8 L202.5,1065.6M197.8,1040.0 L202.1,1038.3M208.7,1060.7 L212.5,1058.8M205.1,1042.1 L208.3,1042.6M194.9,1066.0 L199.2,1067.8M204.7,1048.4 L207.1,1050.4M206.0,1054.1 L210.3,1053.8M202.9,1044.5 L206.9,1045.4M204.9,1042.0 L207.9,1042.5M199.4,1052.3 L202.5,1054.3M203.3,1057.3 L206.4,1057.5M209.0,1035.2 L212.8,1035.6M207.8,1050.4 L210.6,1049.7M201.7,1060.6 L206.1,1061.8M208.5,1064.8 L211.6,1063.2M207.9,1062.1 L210.6,1061.1M195.8,1073.7 L199.4,1073.4M202.0,1080.0 L204.5,1078.9M205.6,1089.9 L208.6,1090.0M206.6,1086.1 L209.7,1085.0M203.0,1076.4 L205.7,1075.8M201.0,1076.1 L203.2,1074.9M208.0,1099.5 L212.0,1099.5"/>
<path class="wf m" style="stroke-width:1.6px;stroke-linejoin:miter" d="M447.4,382.1 H530.1 A8.5,8.5 0 0 1 538.6,390.6 V509.5 A8.5,8.5 0 0 1 530.1,518.0 L514.1,518.0 L440.6,590.3 L496.7,518.0 L479.2,519.1 L394.4,572.1 L457.3,520.6 L448.4,519.5 A8.5,8.5 0 0 1 438.9,509.5 V390.6 A8.5,8.5 0 0 1 447.4,382.1 Z"/>
<text class="b" font-size="19.8" text-anchor="middle" transform="translate(517.9,452.4) rotate(90)">Example:</text>
<text class="b" font-size="19.8" text-anchor="middle" transform="translate(495.2,452.4) rotate(90)">Compare</text>
<text class="b" font-size="19.8" text-anchor="middle" transform="translate(471.9,452.4) rotate(90)">slope with</text>
<text class="b" font-size="19.8" text-anchor="middle" transform="translate(449.2,452.4) rotate(90)">folded edge</text>
<clipPath id="cc"><path d="M259,528.7 L379.2,528.7 L433.3,734 L259,736Z"/></clipPath>
<path style="fill:#fff;stroke:none" d="M257.4,527.0 380.3,527.0 435.5,735.7 257.4,737.8Z"/>
<g clip-path="url(#cc)"><g transform="translate(380.4,727.4) scale(0.206,0.207) translate(-741,-1115.6)" style="--k:2.6"><use href="#scene"/><use href="#lines"/><use href="#labels"/></g><g transform="translate(227.75,524.7) scale(0.206,0.1776)" style="--k:2.6"><use href="#fence"/></g></g>
<path style="stroke-width:3.6px;stroke-linejoin:miter" d="M257.4,527.0 380.3,527.0 435.5,735.7 257.4,737.8Z"/>
<path style="fill:#fff;stroke:none" d="M133.1,549.2 152.7,560.7 173.9,572.1 188.6,577.8 196.8,579.0 202.5,580.6 205.0,582.7 204.2,584.3 209.1,581.1 218.0,578.6 234.4,574.1 247.5,571.3 255.6,572.6 255.1,572.6 255.1,588.4 251.5,588.4 257.3,593.3 265.4,597.4 275.2,598.2 283.4,599.5 293.2,604.0 301.4,607.2 306.3,608.9 307.6,612.9 305.5,617.0 299.7,618.7 291.6,618.7 283.4,616.2 275.2,614.6 267.1,613.8 260.5,611.6 262.2,616.2 250.7,618.2 239.3,620.3 232.7,623.6 226.2,626.3 220.5,626.5 214.8,623.6 209.1,619.2 201.7,615.9 188.6,612.9 169.0,609.7 144.5,604.8 129.5,599.9Z"/>
<path style="stroke-width:3.5px;stroke-linecap:butt" d="M133.1,549.2C136.3,551.1 145.9,556.8 152.7,560.7C159.5,564.5 167.9,569.2 173.9,572.1C179.9,575.0 184.8,576.7 188.6,577.8C192.4,579.0 194.5,578.5 196.8,579.0C199.1,579.4 201.2,580.0 202.5,580.6C203.9,581.2 204.6,582.4 205.0,582.7"/>
<path style="stroke-width:3.5px;stroke-linecap:butt" d="M200.1,589.2C200.7,588.4 202.7,585.7 204.2,584.3C205.6,583.0 206.7,582.0 209.1,581.1C211.4,580.1 213.8,579.8 218.0,578.6C222.3,577.5 229.5,575.3 234.4,574.1C239.3,572.8 243.9,571.5 247.5,571.3C251.0,571.0 254.3,572.4 255.6,572.6"/>
<path style="stroke-width:3.5px;stroke-linecap:butt" d="M129.5,599.9C132.0,600.7 137.9,603.1 144.5,604.8C151.1,606.4 161.7,608.3 169.0,609.7C176.4,611.0 183.2,611.9 188.6,612.9C194.1,614.0 198.3,614.8 201.7,615.9C205.1,616.9 206.9,617.9 209.1,619.2C211.2,620.4 212.9,622.3 214.8,623.6C216.7,624.8 218.6,626.0 220.5,626.5C222.4,627.0 224.2,626.8 226.2,626.3C228.3,625.8 230.6,624.6 232.7,623.6C234.9,622.6 236.3,621.2 239.3,620.3C242.3,619.4 246.9,618.9 250.7,618.2C254.5,617.5 260.3,616.5 262.2,616.2"/>
<path style="stroke-width:3.5px;stroke-linecap:butt" d="M251.5,588.4C252.5,589.2 254.9,591.8 257.3,593.3C259.6,594.8 262.4,596.6 265.4,597.4C268.4,598.2 272.2,597.9 275.2,598.2C278.2,598.6 280.4,598.6 283.4,599.5C286.4,600.5 290.2,602.7 293.2,604.0C296.2,605.2 299.2,606.4 301.4,607.2C303.6,608.0 305.2,607.9 306.3,608.9C307.3,609.8 307.7,611.6 307.6,612.9C307.4,614.3 306.8,616.1 305.5,617.0C304.2,618.0 302.1,618.4 299.7,618.7C297.4,618.9 294.3,619.1 291.6,618.7C288.8,618.3 286.1,616.9 283.4,616.2C280.7,615.5 278.0,615.0 275.2,614.6C272.5,614.2 269.5,614.2 267.1,613.8C264.6,613.3 261.6,612.0 260.5,611.6"/>
<path style="stroke-width:1.6px" d="M295.7,608.0 295.7,615.4 303.0,614.6 303.8,609.3"/>
<path style="stroke-width:2px" d="M229.2,629.3C229.6,629.8 230.8,631.7 231.9,632.5C233.1,633.4 235.3,634.2 236.0,634.5"/>
<path style="stroke-width:2px" d="M255.6,626.3C254.0,626.4 248.3,626.5 245.8,626.8C243.4,627.2 242.2,627.5 240.9,628.5C239.6,629.4 238.4,631.2 238.0,632.5C237.6,633.9 237.8,635.7 238.5,636.6C239.1,637.6 240.6,638.0 241.7,638.3C242.8,638.5 244.5,638.3 245.0,638.3"/>
<path style="stroke-width:2px" d="M254.8,631.7C254.0,632.5 251.3,634.6 249.9,636.6C248.5,638.7 247.3,641.7 246.6,644.0C246.0,646.3 245.7,648.8 246.1,650.5C246.6,652.2 247.9,653.8 249.1,654.1C250.3,654.4 251.9,653.0 253.2,652.2C254.4,651.3 255.9,649.4 256.4,648.9"/>
<rect class="wf" x="233.0" y="1031.3" width="446.1" height="59.3" rx="10.5" ry="10.5" style="fill:#fff;stroke:#000;stroke-width:1.8px"/>
<text class="b" font-size="20.3" x="246.4" y="1056">Align this edge with a vertical surface,</text>
<text class="b" font-size="20.3" x="246.4" y="1079.4">a tree, building, fence post, pole, etc.</text>
<path style="fill:#fff;stroke:#fff;stroke-width:4px" d="M659.1,1081.8 665.5,1078.8 658.3,1101.5 647.7,1101.5 646.2,1098.5 651.5,1095.5Z"/>
<path class="bf" d="M614.4,1073.5C615.0,1072.3 616.7,1068.4 617.9,1066.7C619.0,1064.9 619.4,1063.7 621.2,1062.9C623.0,1062.0 626.0,1061.6 628.8,1061.5C631.6,1061.4 635.1,1061.5 637.9,1062.1C640.7,1062.7 643.1,1063.6 645.5,1065.2C647.9,1066.7 650.4,1069.3 652.3,1071.2C654.2,1073.1 655.7,1074.7 656.8,1076.5C658.0,1078.3 658.7,1080.9 659.1,1081.8 L665.5,1078.8 L654.2,1114.4 L646.2,1098.5 L651.5,1095.5C650.9,1094.4 649.1,1091.3 647.7,1089.4C646.3,1087.5 645.1,1085.9 643.2,1084.1C641.3,1082.3 638.8,1080.2 636.4,1078.8C634.0,1077.3 631.3,1076.3 628.8,1075.5C626.3,1074.6 623.6,1074.3 621.2,1073.9C618.8,1073.6 615.5,1073.6 614.4,1073.5Z"/>

<text x="183.9" y="1134" font-size="11.7">G000503</text>
<path d="M583,1516.4 H642" style="stroke-width:1.2px"/>
<path d="M127,1575.3 H269" style="stroke:#1c1c96;stroke-width:1.2px"/>
</svg>
</body></html>
